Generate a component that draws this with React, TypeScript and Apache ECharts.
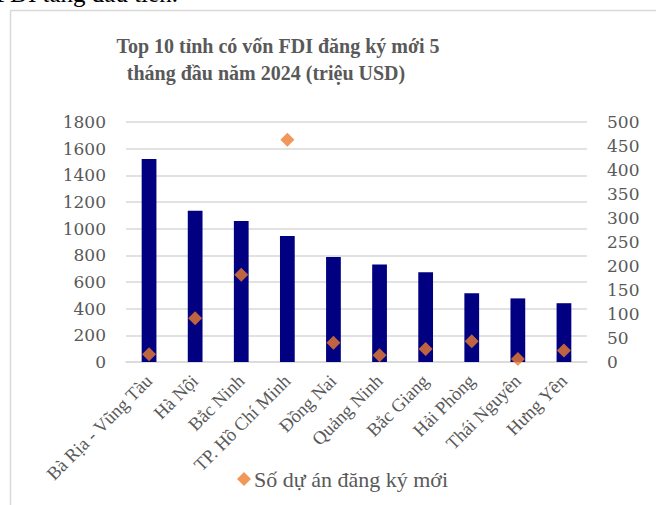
import React, { useEffect, useRef } from "react";
import * as echarts from "echarts";

const titleLines = ["Top 10 tỉnh có vốn FDI đăng ký mới 5", "tháng đầu năm 2024 (triệu USD)"];
const provinces = [
  "Bà Rịa - Vũng Tàu",
  "Hà Nội",
  "Bắc Ninh",
  "TP. Hồ Chí Minh",
  "Đồng Nai",
  "Quảng Ninh",
  "Bắc Giang",
  "Hải Phòng",
  "Thái Nguyên",
  "Hưng Yên",
];
const capitalName = "Vốn FDI đăng ký mới";
const capitalValues = [1522, 1135, 1058, 945, 787, 732, 674, 516, 477, 441];
const projectsName = "Số dự án đăng ký mới";
const projectsValues = [16, 91, 182, 463, 40, 14, 27, 43, 6, 24];
const topFragment = "FDI tăng đầu tiên.";

export default function App() {
  const ref = useRef<HTMLDivElement>(null);
  useEffect(() => {
    if (!ref.current) return;
    const chart = echarts.init(ref.current, null, { renderer: "svg" });
    const grey = "#595959";
    const serif = "'Liberation Serif', serif";
    const tickFont = "'DejaVu Serif', serif";
    chart.setOption({
      animation: false,
      backgroundColor: "#ffffff",
      graphic: [
        {
          type: "rect",
          shape: { x: 10.5, y: 10.5, width: 700, height: 600 },
          style: { fill: "none", stroke: "#d9d9d9", lineWidth: 1.5 },
          silent: true,
        },
        {
          type: "text",
          x: -4,
          y: 6,
          style: {
            text: topFragment,
            fill: "#000000",
            font: "25px 'Liberation Serif', serif",
            textAlign: "left",
            textVerticalAlign: "bottom",
          },
          silent: true,
        },
        {
          type: "text",
          x: 278,
          y: 46,
          style: {
            text: titleLines[0],
            fill: grey,
            font: "bold 20px 'Liberation Serif', serif",
            textAlign: "center",
            textVerticalAlign: "middle",
          },
        },
        {
          type: "text",
          x: 266,
          y: 73,
          style: {
            text: titleLines[1],
            fill: grey,
            font: "bold 20px 'Liberation Serif', serif",
            textAlign: "center",
            textVerticalAlign: "middle",
          },
        },
      ],
      legend: {
        data: [projectsName],
        left: 232,
        top: 463,
        icon: "diamond",
        itemWidth: 14,
        itemHeight: 14,
        itemGap: 2,
        textStyle: { color: grey, fontFamily: serif, fontSize: 22, padding: [0, 0, 0, -2] },
      },
      grid: { left: 126, right: 69, top: 122, bottom: 143, containLabel: false },
      xAxis: {
        type: "category",
        data: provinces,
        axisLine: { show: true, lineStyle: { color: "#d9d9d9", width: 1.5 } },
        axisTick: { show: false },
        axisLabel: {
          interval: 0,
          rotate: 45,
          margin: 16,
          color: grey,
          fontFamily: serif,
          fontSize: 18.5,
        },
      },
      yAxis: [
        {
          type: "value",
          min: 0,
          max: 1800,
          interval: 200,
          axisLine: { show: false },
          axisTick: { show: false },
          splitLine: { lineStyle: { color: "#d9d9d9", width: 1.5 } },
          axisLabel: {
            color: grey,
            fontFamily: tickFont,
            fontSize: 17,
            margin: 20,
            formatter: (v: number) => String(v),
          },
        },
        {
          type: "value",
          min: 0,
          max: 500,
          interval: 50,
          position: "right",
          axisLine: { show: false },
          axisTick: { show: false },
          splitLine: { show: false },
          axisLabel: {
            color: grey,
            fontFamily: tickFont,
            fontSize: 17,
            margin: 20,
            formatter: (v: number) => String(v),
          },
        },
      ],
      series: [
        {
          name: capitalName,
          type: "bar",
          data: capitalValues,
          yAxisIndex: 0,
          barWidth: "32%",
          itemStyle: { color: "#000080" },
        },
        {
          name: projectsName,
          type: "scatter",
          data: projectsValues,
          yAxisIndex: 1,
          symbol: "diamond",
          symbolSize: 14,
          itemStyle: { color: "#ED7D31" },
          z: 5,
        },
      ],
    });
    return () => chart.dispose();
  }, []);
  return (
    <div
      ref={ref}
      style={{ position: "fixed", left: 0, top: 0, width: 656, height: 505 }}
    />
  );
}
